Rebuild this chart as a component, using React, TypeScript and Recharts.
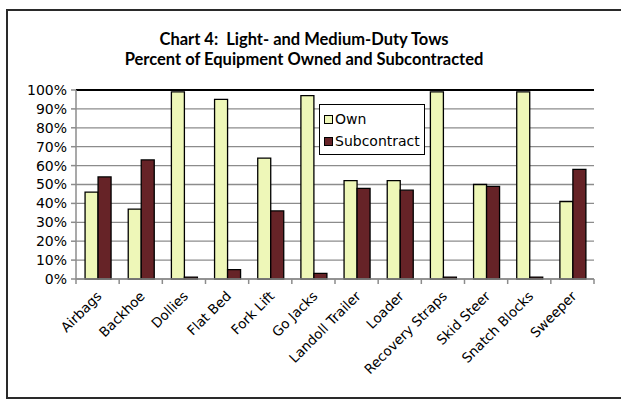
import React from "react";
import {
  BarChart,
  Bar,
  XAxis,
  YAxis,
  CartesianGrid,
  Legend,
  ReferenceLine,
} from "recharts";

const categories = [
  "Airbags",
  "Backhoe",
  "Dollies",
  "Flat Bed",
  "Fork Lift",
  "Go Jacks",
  "Landoll Trailer",
  "Loader",
  "Recovery Straps",
  "Skid Steer",
  "Snatch Blocks",
  "Sweeper",
];
const ownPct = [46, 37, 99, 95, 64, 97, 52, 52, 99, 50, 99, 41];
const subcontractPct = [54, 63, 1, 5, 36, 3, 48, 47, 1, 49, 1, 58];
const yTicks = [0, 10, 20, 30, 40, 50, 60, 70, 80, 90, 100];

const data = categories.map((name, i) => ({
  name,
  own: ownPct[i],
  subcontract: subcontractPct[i],
}));

const OWN_COLOR = "#EEF7B8";
const SUB_COLOR = "#662327";
const AXIS_GRAY = "#8C8C8C";
const LABEL_FONT = "'DejaVu Sans', sans-serif";

const CHART_W = 621;
const CHART_H = 403;
const PLOT_LEFT = 76;
const PLOT_RIGHT = 594;
const BAND = (PLOT_RIGHT - PLOT_LEFT) / categories.length;

// category label rotated 45deg, plus Excel-style tick marks at band edges
function CategoryTick(props: any) {
  const { x, y, payload, index } = props;
  const half = payload?.offset ?? BAND / 2;
  const top = y - 8;
  const lx = x + 5;
  const ly = y + 10;
  return (
    <g>
      <line x1={x - half} y1={top} x2={x - half} y2={top + 5} stroke={AXIS_GRAY} strokeWidth={1.5} />
      {index === categories.length - 1 && (
        <line x1={x + half} y1={top} x2={x + half} y2={top + 5} stroke={AXIS_GRAY} strokeWidth={1.5} />
      )}
      <text
        x={lx}
        y={ly}
        textAnchor="end"
        fontSize={13.5}
        fontFamily={LABEL_FONT}
        fill="#000"
        transform={`rotate(-45, ${lx}, ${ly})`}
      >
        {payload.value}
      </text>
    </g>
  );
}

function LegendBox({ payload }: any) {
  return (
    <div
      style={{
        border: "1px solid #000",
        background: "#fff",
        padding: "3px 4px 2px 4px",
        fontFamily: LABEL_FONT,
        fontSize: 14,
        lineHeight: "22px",
        width: 96,
      }}
    >
      {(payload || []).map((p: any) => (
        <div key={p.value} style={{ display: "flex", alignItems: "center" }}>
          <span
            style={{
              display: "inline-block",
              width: 7,
              height: 7,
              border: "1px solid #000",
              background: p.color,
              marginRight: 2,
            }}
          />
          {p.value}
        </div>
      ))}
    </div>
  );
}

export default function App() {
  return (
    <div
      style={{
        position: "absolute",
        left: 0,
        top: 0,
        width: CHART_W,
        height: CHART_H,
        background: "#fff",
        overflow: "hidden",
      }}
    >
      <div
        style={{
          position: "absolute",
          left: 6,
          top: 9,
          width: CHART_W,
          height: 390,
          border: "2px solid #2a2a2a",
          boxSizing: "border-box",
        }}
      />
      <div
        style={{
          position: "absolute",
          left: 6,
          top: 29,
          width: 596,
          textAlign: "center",
          fontFamily: "Lato, 'Open Sans', sans-serif",
          fontWeight: 700,
          fontSize: 16.5,
          lineHeight: "20px",
          color: "#000",
        }}
      >
        <div>Chart 4:&nbsp; Light- and Medium-Duty Tows</div>
        <div>Percent of Equipment Owned and Subcontracted</div>
      </div>
      <div style={{ position: "absolute", left: 0, top: 0 }}>
        <BarChart
          width={CHART_W}
          height={CHART_H}
          data={data}
          margin={{ top: 90, right: CHART_W - PLOT_RIGHT, bottom: 14, left: 0 }}
          barCategoryGap="21%"
          barGap={0}
        >
          <CartesianGrid vertical={false} stroke={AXIS_GRAY} strokeWidth={1.3} />
          <XAxis
            dataKey="name"
            interval={0}
            height={110}
            tick={<CategoryTick />}
            tickLine={false}
            axisLine={{ stroke: AXIS_GRAY, strokeWidth: 1.5 }}
          />
          <YAxis
            width={PLOT_LEFT}
            domain={[0, 100]}
            ticks={yTicks}
            interval={0}
            tickFormatter={(v: number) => `${v}%`}
            tick={{ fontSize: 14, fill: "#000", fontFamily: LABEL_FONT }}
            tickLine={{ stroke: AXIS_GRAY, strokeWidth: 1.5 }}
            tickSize={5}
            tickMargin={4}
            axisLine={{ stroke: AXIS_GRAY, strokeWidth: 1.5 }}
          />
          <YAxis
            yAxisId="frame"
            orientation="right"
            width={0}
            tick={false}
            tickLine={false}
            axisLine={{ stroke: "#000", strokeWidth: 2 }}
          />
          <ReferenceLine y={100} stroke="#000" strokeWidth={2} />
          <Legend
            layout="horizontal"
            verticalAlign="middle"
            align="center"
            content={<LegendBox />}
            wrapperStyle={{ left: 319, top: 104, width: 106 }}
          />
          <Bar
            dataKey="own"
            name="Own"
            fill={OWN_COLOR}
            stroke="#000"
            strokeWidth={1.3}
            isAnimationActive={false}
          />
          <Bar
            dataKey="subcontract"
            name="Subcontract"
            fill={SUB_COLOR}
            stroke="#000"
            strokeWidth={1.3}
            isAnimationActive={false}
          />
        </BarChart>
      </div>
    </div>
  );
}
